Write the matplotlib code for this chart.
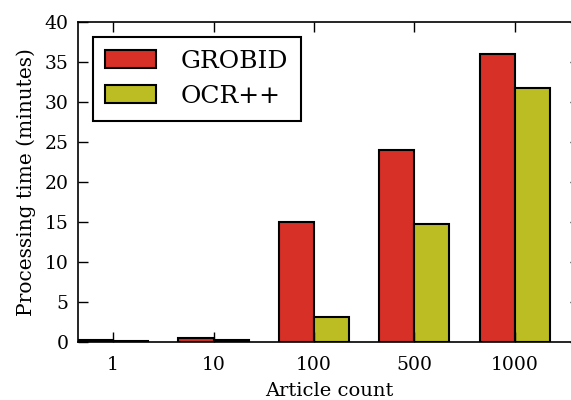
import matplotlib
matplotlib.use("Agg")
import matplotlib.pyplot as plt
import numpy as np

categories = ["1", "10", "100", "500", "1000"]
grobid = [0.25, 0.55, 15.0, 24.0, 36.0]
ocrpp = [0.1, 0.25, 3.1, 14.8, 31.8]

plt.rcParams['font.family'] = ['DejaVu Serif']

fig = plt.figure(figsize=(5.71, 4.0), dpi=100)
ax = fig.add_axes([78/571, 58/400, 502/571, 320/400])

ind = np.arange(len(categories))
width = 0.35
ax.bar(ind, grobid, width, align='edge', color='#d73027', edgecolor='black', linewidth=1.5, label='GROBID')
ax.bar(ind + width, ocrpp, width, align='edge', color='#bcbd22', edgecolor='black', linewidth=1.5, label='OCR++')

ax.set_xlim(0, 5)
ax.set_ylim(0, 40)
ax.set_xticks(ind + width)
ax.set_xticklabels(categories)
ax.set_yticks(np.arange(0, 41, 5))
ax.tick_params(direction='in', length=7, width=1, top=True, right=True, labelsize=13.5)
ax.tick_params(axis='x', pad=10)
ax.tick_params(axis='y', pad=7)
ax.set_xlabel('Article count', fontsize=14, labelpad=6)
ax.set_ylabel('Processing time (minutes)', fontsize=14.5, labelpad=6)
for s in ax.spines.values():
    s.set_linewidth(1.2)

leg = ax.legend(loc='upper left', fontsize=18, frameon=True, fancybox=False, framealpha=1.0,
                handlelength=2.0, handleheight=0.75, borderpad=0.5, handletextpad=1.0,
                borderaxespad=0.6)
leg.get_frame().set_edgecolor('black')
leg.get_frame().set_linewidth(1.5)

fig.savefig('out.png', dpi=100)
